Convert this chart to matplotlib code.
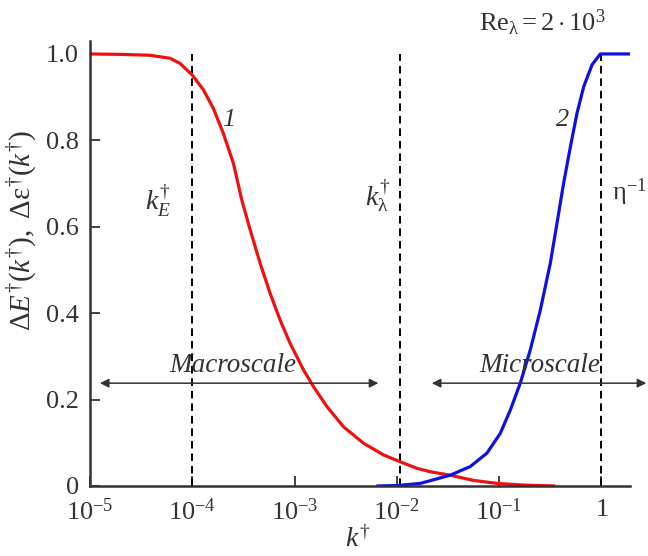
import numpy as np
import matplotlib
matplotlib.use("Agg")
import matplotlib.pyplot as plt

plt.rcParams['font.family'] = ['Liberation Serif', 'DejaVu Serif']
plt.rcParams['mathtext.fontset'] = 'custom'
plt.rcParams['mathtext.rm'] = 'Liberation Serif'
plt.rcParams['mathtext.it'] = 'Liberation Serif:italic'
plt.rcParams['mathtext.bf'] = 'Liberation Serif:bold'
plt.rcParams['lines.scale_dashes'] = False

# ---- data (log10 k, value) ----
# curve 1 (red): Delta E(k)
red_logk = [-5.0, -4.7, -4.413, -4.217, -4.119, -3.999, -3.891, -3.794, -3.696, -3.598,
            -3.516, -3.434, -3.337, -3.239, -3.141, -3.043, -2.913, -2.815, -2.684,
            -2.521, -2.326, -2.130, -1.967, -1.804, -1.673, -1.478, -1.25, -1.02,
            -0.75, -0.45]
red_v = [1.0, 0.999, 0.997, 0.990, 0.978, 0.951, 0.917, 0.874, 0.816, 0.747,
         0.662, 0.593, 0.516, 0.446, 0.384, 0.330, 0.269, 0.230, 0.184,
         0.137, 0.099, 0.072, 0.056, 0.041, 0.033, 0.025, 0.013, 0.006,
         0.002, 0.0]
# curve 2 (blue): Delta eps(k)
blue_logk = [-2.2, -2.0, -1.771, -1.478, -1.282, -1.119, -0.988, -0.890, -0.793, -0.695,
             -0.597, -0.499, -0.434, -0.369, -0.303, -0.238, -0.173, -0.091, -0.010, 0.28]
blue_v = [0.0, 0.001, 0.006, 0.025, 0.045, 0.076, 0.122, 0.176, 0.238, 0.315,
          0.407, 0.516, 0.608, 0.701, 0.785, 0.863, 0.924, 0.975, 1.0, 1.0]

vline_k = [1e-4, 1.07e-2, 1.0]
xticks = [1e-5, 1e-4, 1e-3, 1e-2, 1e-1, 1.0]
xtick_labels = [r'$10^{-5}$', r'$10^{-4}$', r'$10^{-3}$', r'$10^{-2}$', r'$10^{-1}$', r'$1$']
yticks = [0, 0.2, 0.4, 0.6, 0.8, 1.0]
ytick_labels = ['0', '0.2', '0.4', '0.6', '0.8', '1.0']

macro_range = [1.25e-5, 6.6e-3]
micro_range = [2.2e-2, 2.75]

TXT = '#333333'

fig = plt.figure(figsize=(6.48, 5.56), dpi=100)
ax = fig.add_axes([90/648, 1-486/556, (630-90)/648, (486-41)/556])

red_k = [10**v for v in red_logk]
blue_k = [10**v for v in blue_logk]
ax.plot(red_k, red_v, color='#ee1111', lw=2.3, solid_capstyle='butt', zorder=2.2)
ax.plot(blue_k, blue_v, color='#1111dd', lw=2.3, solid_capstyle='butt', zorder=2.2)

for k in vline_k:
    ax.plot([k, k], [0, 1.0], color='black', lw=1.4, linestyle=(0, (5.5, 3.5)), zorder=2)

ax.set_xscale('log')
ax.set_xlim(1e-5, 10**0.28)
ax.set_ylim(0, 1.03)
ax.set_xticks(xticks)
ax.set_xticklabels(xtick_labels)
ax.minorticks_off()
ax.set_yticks(yticks)
ax.set_yticklabels(ytick_labels)

for s in ['top', 'right']:
    ax.spines[s].set_visible(False)
for s in ['left', 'bottom']:
    ax.spines[s].set_linewidth(1.8)
    ax.spines[s].set_color(TXT)
    ax.spines[s].set_zorder(2.5)

ax.tick_params(axis='both', direction='in', length=7, width=1.3, colors=TXT,
               labelsize=19, labelcolor=TXT)
ax.tick_params(axis='y', pad=8)
ax.tick_params(axis='x', pad=9)

# arrows
arrow_y = 0.238
for rng in (macro_range, micro_range):
    ax.annotate('', xy=(rng[0], arrow_y), xytext=(rng[1], arrow_y),
                arrowprops=dict(arrowstyle='<|-|>', color=TXT, lw=1.1,
                                mutation_scale=13, shrinkA=0, shrinkB=0),
                annotation_clip=False)

ax.text(10**-3.60, 0.28, 'Macroscale', fontsize=19.5, style='italic', color=TXT,
        ha='center', va='center')
ax.text(10**-0.607, 0.28, 'Microscale', fontsize=19.5, style='italic', color=TXT,
        ha='center', va='center')

ax.text(10**-3.64, 0.847, '1', fontsize=19, style='italic', color=TXT, ha='center', va='center')
ax.text(10**-0.38, 0.847, '2', fontsize=19, style='italic', color=TXT, ha='center', va='center')

ax.text(10**-4.335, 0.66, r'$k_E^{\dagger}$', fontsize=20, color=TXT, ha='center', va='center')
ax.text(10**-2.19, 0.672, r'$k_{\mathrm{λ}}^{\dagger}$', fontsize=20, color=TXT, ha='center', va='center')
ax.text(10**0.105, 0.68, r'$\mathrm{η}^{-1}$', fontsize=19, color=TXT, ha='left', va='center')

fig.text(542/648, 1-23/556, r'$\mathrm{Re}_{\mathrm{λ}} = 2\cdot10^{3}$', fontsize=19,
         color=TXT, ha='center', va='center')

fig.text(358/648, 1-540/556, r'$k^{\dagger}$', fontsize=20, color=TXT, ha='center', va='center')
fig.text(22/648, 1-230/556, r'$\Delta E^{\dagger}(k^{\dagger}),\ \Delta\mathrm{ε}^{\dagger}(k^{\dagger})$',
         fontsize=21, color=TXT, ha='center', va='center', rotation=90)

fig.savefig('out.png', dpi=100)
